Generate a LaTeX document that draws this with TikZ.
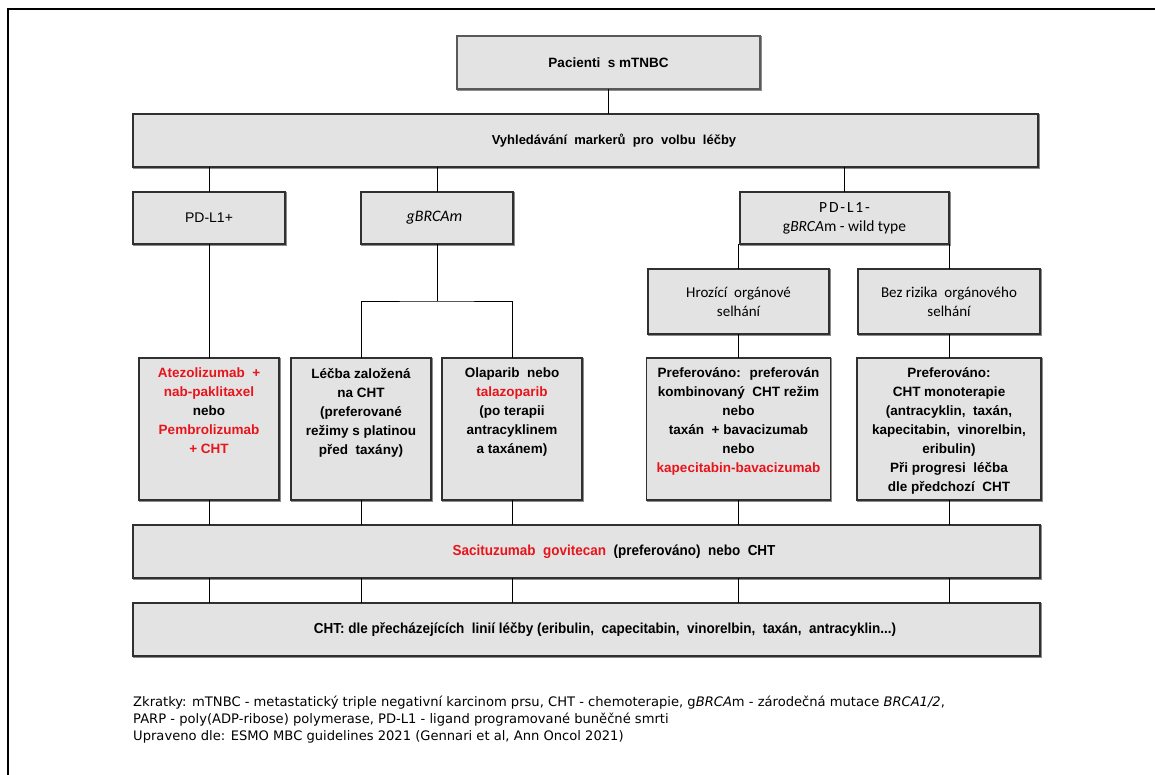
\documentclass[tikz,border=0pt]{standalone}
\usepackage{fontspec}
\setmainfont{Liberation Sans}
\newfontfamily\boxfont{Carlito}
\newfontfamily\notefont{DejaVu Sans}
\newfontfamily\narrowfont[FakeStretch=0.93]{Liberation Sans}
\usetikzlibrary{positioning}
\definecolor{seda}{HTML}{E3E3E3}
\definecolor{ramecek}{HTML}{303030}
\definecolor{stin}{HTML}{8C8C8C}
\definecolor{cervena}{HTML}{E8141C}
\newcommand\cell[2][128pt]{\parbox[c][128pt][t]{#1}{\centering\fontsize{13.5}{19}\selectfont\bfseries\vspace*{3pt}#2}}
\newcommand\cerv[1]{\textcolor{cervena}{#1}}

\begin{document}
\begin{tikzpicture}[x=1pt, y=-1pt, line cap=rect,
    box/.style={draw=ramecek, fill=seda, line width=1.1pt, inner sep=2pt, align=center,
      preaction={draw=stin, line width=1.3pt, transform canvas={shift={(1pt,-1pt)}}}},
    tallbox/.style={box, minimum height=142pt, inner sep=6pt},
    link/.style={draw=black, line width=0.8pt}]
  \useasboundingbox (0,0) rectangle (1155,775);
  \clip (0,0) rectangle (1155,775);
  \fill[white] (0,0) rectangle (1155,775);
  \draw[line width=2.6pt] (8,1200) -- (8,9) -- (1300,9);

  % horni uroven
  \node[box, minimum width=303pt, minimum height=53pt, draw=ramecek!80, font=\bfseries\fontsize{13.5}{15}\selectfont] (pac) at (608.5,62.5) {Pacienti \ s mTNBC};
  \node[box, minimum width=905pt, minimum height=53pt, font=\bfseries\fontsize{13}{15}\selectfont] (vyh) at (585.5,140.5) {\hspace*{57pt}Vyhledávání \ markerů \ pro \ volbu \ léčby};

  % markery
  \node[box, minimum width=152pt, minimum height=52pt, font=\fontsize{14}{17}\selectfont] (pdp) at (209,218) {PD-L1+};
  \node[box, minimum width=152pt, minimum height=52pt, font=\boxfont\fontsize{16}{18}\selectfont] (gbr) at (437,218) {\hspace*{-5pt}\itshape gBRCAm};
  \node[box, minimum width=209pt, minimum height=52pt, font=\boxfont\fontsize{15.5}{19}\selectfont] (pdn) at (844.5,218) {{\fontsize{15.5}{19}\selectfont\addfontfeature{LetterSpace=12}PD-L1-}\\g\textit{BRCA}m - wild type};
  \node[box, minimum width=181pt, minimum height=65pt, font=\boxfont\fontsize{15}{19}\selectfont] (hroz) at (738.5,301.5) {Hrozící \ orgánové\\selhání};
  \node[box, minimum width=182pt, minimum height=65pt, font=\boxfont\fontsize{15}{19}\selectfont] (bez) at (949,301.5) {Bez rizika \ orgánového\\selhání};

  % lecba
  \node[tallbox, minimum width=132pt] (ate) at (209,429) {\cell{\cerv{Atezolizumab \ +}\\\cerv{nab-paklitaxel}\\nebo\\\cerv{Pembrolizumab}\\\cerv{+ CHT}}};
  \node[tallbox, minimum width=132pt] (lec) at (361,429) {\cell{Léčba založená\\na CHT\\(preferované\\režimy s platinou\\před \ taxány)}};
  \node[tallbox, minimum width=132pt] (ola) at (512,429) {\cell{Olaparib \ nebo\\\cerv{talazoparib}\\(po terapii\\antracyklinem\\a taxánem)}};
  \node[tallbox, minimum width=181pt] (prefa) at (738.5,429) {\cell[172pt]{Preferováno: \ preferován\\kombinovaný \ CHT režim\\nebo\\taxán \ + bavacizumab\\nebo\\\cerv{kapecitabin-bavacizumab}}};
  \node[tallbox, minimum width=182pt] (prefb) at (949,429) {\cell[172pt]{Preferováno:\\CHT monoterapie\\(antracyklin, \ taxán,\\kapecitabin, \ vinorelbin,\\eribulin)\\Při progresi \ léčba\\dle předchozí \ CHT}};

  % dalsi linie
  \node[box, minimum width=907pt, minimum height=53pt, font=\narrowfont\bfseries\fontsize{14.5}{16}\selectfont] (saci) at (586.5,551.5) {\hspace*{55pt}\cerv{Sacituzumab \ govitecan} \ (preferováno) \ nebo \ CHT};
  \node[box, minimum width=907pt, minimum height=53pt, font=\narrowfont\bfseries\fontsize{14.5}{16}\selectfont] (cht) at (586.5,629.5) {\hspace*{37pt}CHT: dle přecházejících \ linií léčby (eribulin, \ capecitabin, \ vinorelbin, \ taxán, \ antracyklin...)};

  % spojnice
  \coordinate (split) at (437,301);
  \draw[link] (pac) -- (pac |- vyh.north);
  \draw[link] (pdp) -- (pdp |- vyh.south);
  \draw[link] (gbr) -- (gbr |- vyh.south);
  \draw[link] (pdn) -- (pdn |- vyh.south);
  \draw[link] (pdp.south) -- (ate.north);
  \draw[link] (gbr.south) -- (split);
  \draw[link] (lec.north) |- (split) -| (ola.north);
  \draw[link] (hroz.north) -- (hroz |- pdn.south);
  \draw[link] (bez.north) -- (bez |- pdn.south);
  \draw[link] (hroz.south) -- (prefa.north);
  \draw[link] (bez.south) -- (prefb.north);
  \foreach \b in {ate,lec,ola,prefa,prefb} {
    \draw[link] (\b.south) -- (\b |- saci.north);
    \draw[link] (\b |- saci.south) -- (\b |- cht.north);
  }

  % poznamka
  \node[anchor=north west, align=left, inner sep=0pt, font=\notefont\fontsize{13.1}{17}\selectfont] (pozn) at (133,696)
    {Zkratky: mTNBC - metastatický triple negativní karcinom prsu, CHT - chemoterapie, g\textit{BRCA}m - zárodečná mutace \textit{BRCA1/2},\\
     PARP - poly(ADP-ribose) polymerase, PD-L1 - ligand programované buněčné smrti\\
     Upraveno dle: ESMO MBC guidelines 2021 (Gennari et al, Ann Oncol 2021)};
\end{tikzpicture}
\end{document}
